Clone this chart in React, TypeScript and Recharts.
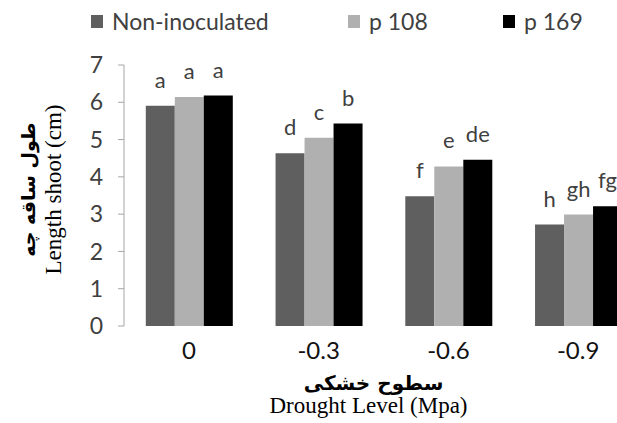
import React from "react";
import { BarChart, Bar, XAxis, YAxis, Legend, LabelList } from "recharts";

const levels = ["0", "-0.3", "-0.6", "-0.9"];
const nonInoculated = [5.91, 4.63, 3.48, 2.72];
const p108 = [6.14, 5.05, 4.28, 2.99];
const p169 = [6.18, 5.43, 4.46, 3.21];
const lettersNon = ["a", "d", "f", "h"];
const letters108 = ["a", "c", "e", "gh"];
const letters169 = ["a", "b", "de", "fg"];
const yTicks = [0, 1, 2, 3, 4, 5, 6, 7];
const edgeTicks = [0, 1, 2, 3, 4];

const seriesNames = ["Non-inoculated", "p 108", "p 169"];
const seriesColors = ["#5f5f5f", "#b0b0b0", "#000000"];

const data = levels.map((level, i) => ({
  level,
  non: nonInoculated[i],
  p108: p108[i],
  p169: p169[i],
  lNon: lettersNon[i],
  l108: letters108[i],
  l169: letters169[i],
}));

const AXIS = "#a6a6a6";
const SANS = "Lato, sans-serif";
const SERIF = "'Liberation Serif', 'Times New Roman', serif";
const PERSIAN = "'DejaVu Sans', sans-serif";

const LegendContent = () => (
  <div style={{ height: 40, position: "relative", fontFamily: SANS, fontSize: 23, color: "#404040" }}>
    {seriesNames.map((name, i) => (
      <div
        key={name}
        style={{
          position: "absolute",
          left: [91, 348, 503][i],
          top: 7,
          display: "flex",
          alignItems: "center",
          whiteSpace: "nowrap",
          lineHeight: "28px",
        }}
      >
        <span style={{ display: "inline-block", width: 12, height: 13, background: seriesColors[i], marginRight: 9 }} />
        <span>{name}</span>
      </div>
    ))}
  </div>
);

const YTitle = (props: any) => {
  const vb = props.viewBox || { x: 0, y: 0, width: 0, height: 0 };
  const cy = vb.y + vb.height / 2 - 6;
  const x1 = 28;
  const x2 = 53;
  return (
    <g>
      <text
        x={x1}
        y={cy}
        transform={`rotate(-90, ${x1}, ${cy})`}
        textAnchor="middle"
        dominantBaseline="central"
        fontFamily={PERSIAN}
        fontWeight="bold"
        fontSize={19}
        fill="#000"
      >
        طول ساقه چه
      </text>
      <text
        x={x2}
        y={cy}
        transform={`rotate(-90, ${x2}, ${cy})`}
        textAnchor="middle"
        dominantBaseline="central"
        fontFamily={SERIF}
        fontSize={23}
        fill="#000"
      >
        Length shoot (cm)
      </text>
    </g>
  );
};

const XTitle = (props: any) => {
  const vb = props.viewBox || { x: 0, y: 0, width: 0, height: 0 };
  const cx = vb.x + vb.width / 2 - 15;
  return (
    <g>
      <text x={cx + 5} y={390} textAnchor="middle" fontFamily={PERSIAN} fontWeight="bold" fontSize={20} fill="#000">
        سطوح خشکی
      </text>
      <text x={cx} y={413} textAnchor="middle" fontFamily={SERIF} fontSize={23} fill="#000">
        Drought Level (Mpa)
      </text>
    </g>
  );
};

export default function App() {
  return (
    <div style={{ position: "fixed", left: 0, top: 0, width: 617, height: 423, overflow: "hidden", background: "#fff" }}>
      <BarChart
        width={680}
        height={423}
        data={data}
        margin={{ top: 25, right: 37, bottom: 0, left: 64 }}
        barCategoryGap="16.8%"
        barGap={0}
      >
        <Legend verticalAlign="top" content={<LegendContent />} wrapperStyle={{ left: 0, top: 0, width: 680 }} />
        <XAxis
          xAxisId="edge"
          type="number"
          domain={[0, 4]}
          ticks={edgeTicks}
          allowDataOverflow
          tick={false}
          tickSize={6}
          tickLine={{ stroke: AXIS }}
          axisLine={{ stroke: AXIS }}
          height={0}
        />
        <XAxis
          xAxisId="cat"
          dataKey="level"
          axisLine={false}
          tickLine={false}
          tickSize={0}
          tickMargin={16}
          tick={{ fontFamily: SANS, fontSize: 24, fill: "#111" }}
          height={97}
          interval={0}
          label={<XTitle />}
        />
        <YAxis
          domain={[0, 7]}
          ticks={yTicks}
          width={60}
          tickSize={6}
          tickMargin={15}
          tickLine={{ stroke: AXIS }}
          axisLine={{ stroke: AXIS }}
          tick={{ fontFamily: SANS, fontSize: 23, fill: "#404040" }}
          interval={0}
          label={<YTitle />}
        />
        <Bar xAxisId="cat" dataKey="non" name={seriesNames[0]} fill={seriesColors[0]} isAnimationActive={false}>
          <LabelList dataKey="lNon" position="top" offset={18} fontFamily={SANS} fontSize={22} fill="#404040" />
        </Bar>
        <Bar xAxisId="cat" dataKey="p108" name={seriesNames[1]} fill={seriesColors[1]} isAnimationActive={false}>
          <LabelList dataKey="l108" position="top" offset={18} fontFamily={SANS} fontSize={22} fill="#404040" />
        </Bar>
        <Bar xAxisId="cat" dataKey="p169" name={seriesNames[2]} fill={seriesColors[2]} isAnimationActive={false}>
          <LabelList dataKey="l169" position="top" offset={18} fontFamily={SANS} fontSize={22} fill="#404040" />
        </Bar>
      </BarChart>
    </div>
  );
}
